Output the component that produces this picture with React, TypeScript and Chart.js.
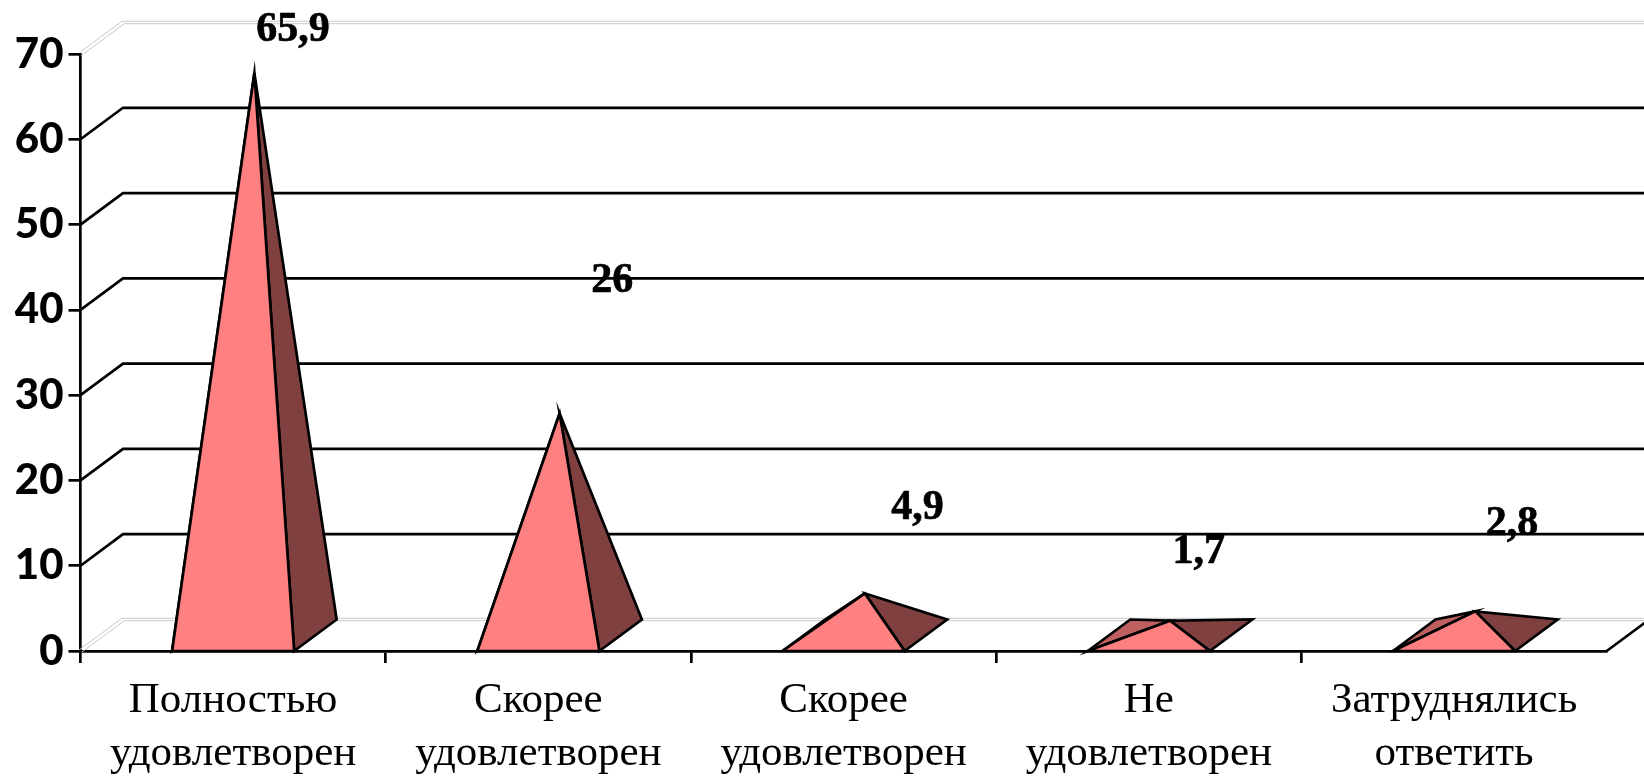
import React, { useEffect, useRef } from "react";
import { Chart, registerables } from "chart.js";

Chart.register(...registerables);

const categories: string[][] = [
  ["Полностью", "удовлетворен"],
  ["Скорее", "удовлетворен"],
  ["Скорее", "удовлетворен"],
  ["Не", "удовлетворен"],
  ["Затруднялись", "ответить"],
];
const values: number[] = [65.9, 26, 4.9, 1.7, 2.8];
const valueLabels: string[] = ["65,9", "26", "4,9", "1,7", "2,8"];
const yTicks: number[] = [0, 10, 20, 30, 40, 50, 60, 70];

const DEPTH_X = 42.5;
const DEPTH_Y = -31.5;
const LINE = 2.7;
// Label anchor offset from the bar centre / value pixel (labels float freely in the source)
const labelDx = [60, 74, 74, 50, 58];
const labelDy = [-48, -137, -90, -74, -92];

const pyramidPlugin = {
  id: "pyramid3d",
  beforeDatasetsDraw(chart: any) {
    const { ctx, chartArea, scales } = chart;
    const y = scales.y;
    ctx.save();
    ctx.lineCap = "butt";
    yTicks.forEach((t) => {
      const py = y.getPixelForValue(t);
      const grey = t === 0 || t === 70;
      const offs = grey ? [-1.2, 1.2] : [0];
      offs.forEach((o) => {
        ctx.beginPath();
        ctx.strokeStyle = grey ? "#c8c8c8" : "#000";
        ctx.lineWidth = grey ? 1 : LINE;
        ctx.moveTo(chartArea.left + o, py + o);
        ctx.lineTo(chartArea.left + DEPTH_X + o, py + DEPTH_Y + o);
        ctx.lineTo(chart.width, py + DEPTH_Y + o);
        ctx.stroke();
      });
    });
    const by = y.getPixelForValue(0);
    ctx.beginPath();
    ctx.strokeStyle = "#000";
    ctx.lineWidth = LINE;
    ctx.moveTo(chartArea.right, by);
    ctx.lineTo(chartArea.right + DEPTH_X, by + DEPTH_Y);
    ctx.stroke();
    ctx.restore();
  },
  afterDatasetsDraw(chart: any) {
    const { ctx, scales } = chart;
    const y = scales.y;
    const bars = chart.getDatasetMeta(0).data;
    ctx.save();
    ctx.lineJoin = "miter";
    ctx.miterLimit = 10;
    ctx.lineWidth = LINE;
    ctx.strokeStyle = "#000";
    const poly = (pts: number[][], fill: string) => {
      ctx.beginPath();
      pts.forEach((p, i) => (i ? ctx.lineTo(p[0], p[1]) : ctx.moveTo(p[0], p[1])));
      ctx.closePath();
      ctx.fillStyle = fill;
      ctx.fill();
      ctx.stroke();
    };
    bars.forEach((bar: any, i: number) => {
      const half = bar.width / 2;
      const base = y.getPixelForValue(0);
      const fl = [bar.x - half, base];
      const fr = [bar.x + half, base];
      const bl = [bar.x - half + DEPTH_X, base + DEPTH_Y];
      const br = [bar.x + half + DEPTH_X, base + DEPTH_Y];
      const apex = [bar.x + DEPTH_X / 2, bar.y + DEPTH_Y / 2];
      poly([fl, bl, apex], "#bf6060");
      poly([fr, br, apex], "#804040");
      poly([fl, fr, apex], "#ff8080");
    });
    ctx.fillStyle = "#000";
    ctx.strokeStyle = "#000";
    ctx.lineWidth = 0.7;
    ctx.lineJoin = "round";
    ctx.font = 'bold 42px "Liberation Serif"';
    ctx.textAlign = "center";
    ctx.textBaseline = "alphabetic";
    bars.forEach((bar: any, i: number) => {
      ctx.fillText(valueLabels[i], bar.x + labelDx[i], bar.y + labelDy[i]);
      ctx.strokeText(valueLabels[i], bar.x + labelDx[i], bar.y + labelDy[i]);
    });
    ctx.restore();
  },
};

export default function App() {
  const ref = useRef<HTMLCanvasElement>(null);
  useEffect(() => {
    document.body.style.margin = "0";
    const chart = new Chart(ref.current as HTMLCanvasElement, {
      type: "bar",
      data: {
        labels: categories as any,
        datasets: [
          {
            data: values,
            backgroundColor: "rgba(0,0,0,0)",
            borderWidth: 0,
            categoryPercentage: 0.4,
            barPercentage: 1,
          },
        ],
      },
      options: {
        responsive: false,
        animation: false,
        devicePixelRatio: 1,
        layout: { padding: { top: 54, right: 37.3, left: 0, bottom: 0 } },
        plugins: { legend: { display: false }, tooltip: { enabled: false }, title: { display: false } },
        scales: {
          x: {
            afterFit: (s: any) => {
              s.height = 126;
            },
            border: { color: "#000", width: LINE },
            grid: {
              offset: true,
              drawOnChartArea: false,
              color: "#000",
              lineWidth: LINE,
              tickLength: 12,
              tickColor: (c: any) => (c.tick ? "#000" : "rgba(0,0,0,0)"),
              tickWidth: LINE,
            },
            ticks: {
              color: "#000",
              maxRotation: 0,
              autoSkip: false,
              padding: 12,
              font: { family: '"Liberation Serif"', size: 43, lineHeight: 1.216 },
            },
          },
          y: {
            min: 0,
            max: 70,
            afterFit: (s: any) => {
              s.width = 80.5;
            },
            border: { color: "#000", width: LINE },
            grid: {
              drawOnChartArea: false,
              color: "#000",
              lineWidth: LINE,
              tickLength: 12,
              tickColor: "#000",
              tickWidth: LINE,
            },
            ticks: {
              stepSize: 10,
              color: "#000",
              padding: 5,
              font: { family: "Lato", size: 42, weight: "900" },
            },
          },
        },
      } as any,
      plugins: [pyramidPlugin],
    });
    return () => chart.destroy();
  }, []);
  return (
    <div style={{ width: 1644, height: 777, background: "#fff" }}>
      <canvas ref={ref} width={1644} height={777} style={{ display: "block" }} />
    </div>
  );
}
